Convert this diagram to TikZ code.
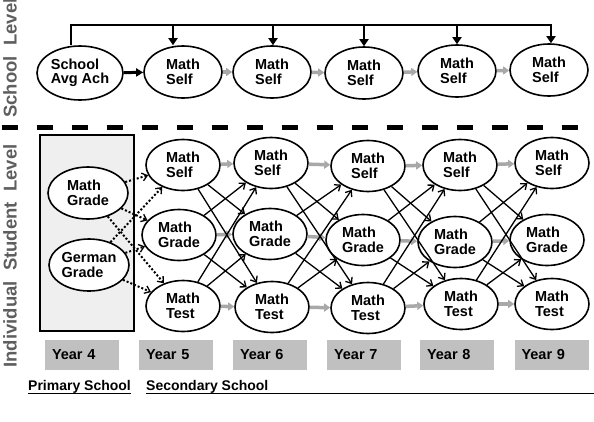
\documentclass[tikz,border=0pt]{standalone}
\usepackage{fontspec}
\setmainfont{Liberation Sans}
\usetikzlibrary{arrows.meta,shapes.geometric}
\definecolor{autogray}{HTML}{A8A8A8}
\definecolor{boxgray}{HTML}{C0C0C0}
\definecolor{panelgray}{HTML}{EFEFEF}
\definecolor{levelgray}{HTML}{5E5E5E}
\begin{document}
\begin{tikzpicture}[x=1pt,y=1pt,
  var/.style={ellipse, draw, fill=white, line width=1.6pt, minimum width=74pt, minimum height=51pt,
    inner sep=0pt, font=\fontsize{14.5}{14.5}\selectfont\bfseries, align=left},
  cross/.style={-{Straight Barb[length=5pt,width=8pt,line width=1.3pt]}, line width=1.3pt},
  dotarr/.style={-{Straight Barb[length=5pt,width=8pt,line width=1.3pt]}, line width=2pt, dash pattern=on 2pt off 2pt},
  autoarr/.style={-{Triangle[length=6pt,width=8pt]}, line width=3.5pt, draw=autogray, fill=autogray},
  bracket/.style={line width=2.4pt},
  bracketarr/.style={-{Triangle[length=7pt,width=9pt]}, line width=2.4pt},
  yearbox/.style={fill=boxgray, minimum width=74pt, minimum height=30pt, text width=60pt,
    inner xsep=7pt, align=left, font=\fontsize{14.5}{14.5}\selectfont\bfseries},
  levellabel/.style={rotate=90, text=levelgray, font=\fontsize{18.5}{18.5}\selectfont\bfseries},
  foot/.style={inner sep=0pt, font=\fontsize{14}{14}\selectfont\bfseries}
]
\useasboundingbox (0,0) rectangle (594,-421);

% level labels
\node[levellabel] (schlev) at (10,-58) {School\ \ Level};
\node[levellabel] (indlev) at (10,-256) {Individual\ \ Student\ \ Level};

% dashed separator
\coordinate (dashL) at (1.7,-127);
\coordinate (dashR) at (594,-127);
\draw[line width=5pt, dash pattern=on 16pt off 19pt] (dashL) -- (dashR);

% primary school panel
\node[draw, fill=panelgray, line width=1.2pt, minimum width=94pt, minimum height=196pt, inner sep=0pt] (panel) at (87,-233) {};

% school level nodes
\node[var, minimum width=86pt, minimum height=54pt] (saa) at (80,-73) {School\\Avg Ach};
\node[var, minimum width=78pt, minimum height=52pt] (ms5) at (183,-72) {Math\\Self};
\node[var, minimum width=78pt, minimum height=52pt] (ms6) at (272,-72) {Math\\Self};
\node[var, minimum width=78pt, minimum height=52pt] (ms7) at (364,-73) {Math\\Self};
\node[var, minimum width=78pt, minimum height=52pt] (ms8) at (457,-71) {Math\\Self};
\node[var, minimum width=78pt, minimum height=52pt] (ms9) at (549,-70) {Math\\Self};

% bracket
\coordinate (b0) at (71,-25);
\coordinate (b1) at (173,-25);
\coordinate (b2) at (273,-25);
\coordinate (b3) at (364,-25);
\coordinate (b4) at (457,-25);
\coordinate (b5) at (551,-25);
\draw[bracket] (b0 |- saa.north) -- (b0) -- ([xshift=1.2pt]b5);
\foreach \b/\m in {b1/ms5,b2/ms6,b3/ms7,b4/ms8,b5/ms9}
  \draw[bracketarr] (\b) -- (\b |- \m.north);

\draw[-{Triangle[length=7pt,width=8pt]}, line width=3pt] (saa) -- (ms5);
\foreach \a/\b in {ms5/ms6,ms6/ms7,ms7/ms8,ms8/ms9}
  \draw[autoarr] (\a) -- (\b);

% student level nodes
\node[var, minimum width=80pt, minimum height=52pt] (mg4) at (88,-193) {Math\\Grade};
\node[var, minimum width=80pt, minimum height=52pt] (gg4) at (89,-265) {German\\Grade};

\node[var] (s5) at (183,-165) {Math\\Self};
\node[var] (g5) at (179,-235) {Math\\Grade};
\node[var] (t5) at (183,-306) {Math\\Test};

\node[var] (s6) at (271,-163) {Math\\Self};
\node[var] (g6) at (270,-234) {Math\\Grade};
\node[var] (t6) at (272,-307) {Math\\Test};

\node[var] (s7) at (368,-166) {Math\\Self};
\node[var] (g7) at (363,-240) {Math\\Grade};
\node[var] (t7) at (368,-308) {Math\\Test};

\node[var] (s8) at (460,-165) {Math\\Self};
\node[var] (g8) at (455,-242) {Math\\Grade};
\node[var] (t8) at (461,-304) {Math\\Test};

\node[var] (s9) at (552,-163) {Math\\Self};
\node[var] (g9) at (547,-240) {Math\\Grade};
\node[var] (t9) at (552,-304) {Math\\Test};

% dotted arrows from year 4
\foreach \a in {mg4,gg4}
  \foreach \b in {s5,g5,t5}
    \draw[dotarr] (\a) -- (\b);

% autoregressive and cross-lagged paths
\foreach \p/\n in {5/6,6/7,7/8,8/9}{
  \draw[autoarr] (s\p) -- (s\n);
  \draw[autoarr] (g\p) -- (g\n);
  \draw[autoarr] (t\p) -- (t\n);
  \draw[cross] (s\p) -- (g\n);
  \draw[cross] (s\p) -- (t\n);
  \draw[cross] (g\p) -- (s\n);
  \draw[cross] (g\p) -- (t\n);
  \draw[cross] (t\p) -- (s\n);
  \draw[cross] (t\p) -- (g\n);
}

% year labels
\node[yearbox] (y4) at (82,-355) {Year 4};
\node[yearbox] (y5) at (176,-355) {Year 5};
\node[yearbox] (y6) at (270,-355) {Year 6};
\node[yearbox] (y7) at (364,-355) {Year 7};
\node[yearbox] (y8) at (457,-355) {Year 8};
\node[yearbox] (y9) at (551.5,-355) {Year 9};

% school type labels
\node[foot, anchor=base west] (ps) at (28,-390) {Primary School};
\node[foot, anchor=base west] (ss) at (146,-390) {Secondary School};
\coordinate (lineend) at (594,-393.3);
\draw[line width=1.3pt] ([yshift=-3.3pt]ps.base west) -- ([yshift=-3.3pt]ps.base east);
\draw[line width=1.3pt] ([yshift=-3.3pt]ss.base west) -- (lineend);
\end{tikzpicture}
\end{document}
